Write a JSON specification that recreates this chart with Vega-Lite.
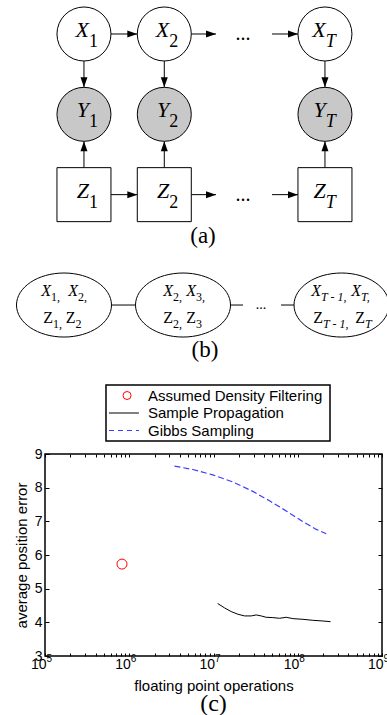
{
  "$schema": "https://vega.github.io/schema/vega-lite/v6.json",
  "background": "white",
  "padding": {"left": 13, "top": 0, "right": 0, "bottom": 0},
  "spacing": 4,
  "config": {"view": {"stroke": null}, "axis": {"grid": false}},
  "datasets": {
    "nodes": [
      {"id": "X1", "kind": "hidden", "x": 1, "y": 1},
      {"id": "X2", "kind": "hidden", "x": 2, "y": 1},
      {"id": "XT", "kind": "hidden", "x": 4, "y": 1},
      {"id": "Y1", "kind": "observed", "x": 1, "y": 2},
      {"id": "Y2", "kind": "observed", "x": 2, "y": 2},
      {"id": "YT", "kind": "observed", "x": 4, "y": 2},
      {"id": "Z1", "kind": "switch", "x": 1, "y": 3},
      {"id": "Z2", "kind": "switch", "x": 2, "y": 3},
      {"id": "ZT", "kind": "switch", "x": 4, "y": 3}
    ],
    "arrows": [
      {"x": 1.336, "y": 1, "tx": 1.664, "ty": 1, "dir": "right"},
      {"x": 2.336, "y": 1, "tx": 2.644, "ty": 1, "dir": "right"},
      {"x": 3.341, "y": 1, "tx": 3.664, "ty": 1, "dir": "right"},
      {"x": 1.336, "y": 3, "tx": 1.664, "ty": 3, "dir": "right"},
      {"x": 2.336, "y": 3, "tx": 2.644, "ty": 3, "dir": "right"},
      {"x": 3.341, "y": 3, "tx": 3.664, "ty": 3, "dir": "right"},
      {"x": 1, "y": 1.336, "tx": 1, "ty": 1.664, "dir": "down"},
      {"x": 2, "y": 1.336, "tx": 2, "ty": 1.664, "dir": "down"},
      {"x": 4, "y": 1.336, "tx": 4, "ty": 1.664, "dir": "down"},
      {"x": 1, "y": 2.664, "tx": 1, "ty": 2.336, "dir": "up"},
      {"x": 2, "y": 2.664, "tx": 2, "ty": 2.336, "dir": "up"},
      {"x": 4, "y": 2.664, "tx": 4, "ty": 2.336, "dir": "up"}
    ],
    "cliques": [
      {"x": 0.7515, "y": 4.374},
      {"x": 2.233, "y": 4.374},
      {"x": 4.206, "y": 4.374}
    ],
    "links": [
      {"x": 1.343, "y": 4.374, "tx": 1.642, "ty": 4.374},
      {"x": 2.824, "y": 4.374, "tx": 2.98, "ty": 4.374},
      {"x": 3.453, "y": 4.374, "tx": 3.615, "ty": 4.374}
    ],
    "labels": [
      {"panel": "a", "letter": "X", "sub": "1", "x": 1.062, "y": 1.037},
      {"panel": "a", "letter": "X", "sub": "2", "x": 2.062, "y": 1.037},
      {"panel": "a", "letter": "X", "sub": "T", "x": 4.01, "y": 1.037},
      {"panel": "a", "letter": "Y", "sub": "1", "x": 1.062, "y": 2.037},
      {"panel": "a", "letter": "Y", "sub": "2", "x": 2.062, "y": 2.037},
      {"panel": "a", "letter": "Y", "sub": "T", "x": 4.01, "y": 2.037},
      {"panel": "a", "letter": "Z", "sub": "1", "x": 1.062, "y": 3.037},
      {"panel": "a", "letter": "Z", "sub": "2", "x": 2.062, "y": 3.037},
      {"panel": "a", "letter": "Z", "sub": "T", "x": 4.01, "y": 3.037},
      {"panel": "b", "letter": "X", "sub": "1,", "x": 0.59, "y": 4.262},
      {"panel": "b", "letter": "X", "sub": "2,", "x": 0.926, "y": 4.262},
      {"panel": "b", "letter": "Z", "sub": "1,", "x": 0.615, "y": 4.598},
      {"panel": "b", "letter": "Z", "sub": "2", "x": 0.895, "y": 4.598},
      {"panel": "b", "letter": "X", "sub": "2,", "x": 2.108, "y": 4.262},
      {"panel": "b", "letter": "X", "sub": "3,", "x": 2.395, "y": 4.262},
      {"panel": "b", "letter": "Z", "sub": "2,", "x": 2.108, "y": 4.598},
      {"panel": "b", "letter": "Z", "sub": "3", "x": 2.395, "y": 4.598},
      {"panel": "b", "letter": "X", "sub": "T - 1,", "x": 3.951, "y": 4.262},
      {"panel": "b", "letter": "X", "sub": "T,", "x": 4.449, "y": 4.262},
      {"panel": "b", "letter": "Z", "sub": "T - 1,", "x": 3.976, "y": 4.598},
      {"panel": "b", "letter": "Z", "sub": "T", "x": 4.499, "y": 4.598}
    ],
    "dots": [
      {"panel": "a", "x": 2.98, "y": 1},
      {"panel": "a", "x": 2.98, "y": 3},
      {"panel": "b", "x": 3.204, "y": 4.374}
    ],
    "captions": [
      {"text": "(a)", "x": 2.482, "y": 3.52},
      {"text": "(b)", "x": 2.507, "y": 4.94}
    ],
    "legend": [
      {"series": "Assumed Density Filtering"},
      {"series": "Sample Propagation"},
      {"series": "Gibbs Sampling"}
    ],
    "adf": [{"flops": 820000, "err": 5.73}],
    "sp": [
      {"flops": 11200000, "err": 4.56},
      {"flops": 13500000, "err": 4.43},
      {"flops": 16200000, "err": 4.32},
      {"flops": 19500000, "err": 4.24},
      {"flops": 23400000, "err": 4.19},
      {"flops": 28000000, "err": 4.19},
      {"flops": 32100000, "err": 4.22},
      {"flops": 36800000, "err": 4.19},
      {"flops": 42200000, "err": 4.15},
      {"flops": 50700000, "err": 4.14},
      {"flops": 60800000, "err": 4.12},
      {"flops": 73000000, "err": 4.15},
      {"flops": 87600000, "err": 4.11},
      {"flops": 115000000, "err": 4.09},
      {"flops": 151000000, "err": 4.06},
      {"flops": 199000000, "err": 4.04},
      {"flops": 245000000, "err": 4.02}
    ],
    "gibbs": [
      {"flops": 3440000, "err": 8.64},
      {"flops": 5680000, "err": 8.54},
      {"flops": 9800000, "err": 8.38},
      {"flops": 17000000, "err": 8.17},
      {"flops": 29300000, "err": 7.89},
      {"flops": 46200000, "err": 7.61},
      {"flops": 73000000, "err": 7.31},
      {"flops": 115000000, "err": 6.99},
      {"flops": 166000000, "err": 6.76},
      {"flops": 218000000, "err": 6.63}
    ]
  },
  "vconcat": [
    {
      "width": 337,
      "height": 380,
      "encoding": {
        "x": {"field": "x", "type": "quantitative", "scale": {"domain": [0.515, 4.71], "nice": false, "zero": false}, "axis": null},
        "y": {"field": "y", "type": "quantitative", "scale": {"domain": [0.5768, 5.3073], "reverse": true, "nice": false, "zero": false}, "axis": null}
      },
      "layer": [
        {"data": {"name": "arrows"}, "mark": {"type": "rule", "color": "black", "strokeWidth": 1}, "encoding": {"x2": {"field": "tx"}, "y2": {"field": "ty"}}},
        {"data": {"name": "arrows"}, "transform": [{"filter": "datum.dir === 'right'"}],
         "mark": {"type": "point", "shape": "M0,0L-1,-0.35L-1,0.35Z", "size": 400, "filled": true, "color": "black", "opacity": 1, "strokeWidth": 0},
         "encoding": {"x": {"field": "tx", "type": "quantitative", "scale": {"domain": [0.515, 4.71], "nice": false, "zero": false}, "axis": null}, "y": {"field": "ty", "type": "quantitative", "scale": {"domain": [0.5768, 5.3073], "reverse": true, "nice": false, "zero": false}, "axis": null}}},
        {"data": {"name": "arrows"}, "transform": [{"filter": "datum.dir === 'down'"}],
         "mark": {"type": "point", "shape": "M0,0L-0.35,-1L0.35,-1Z", "size": 400, "filled": true, "color": "black", "opacity": 1, "strokeWidth": 0},
         "encoding": {"x": {"field": "tx", "type": "quantitative", "scale": {"domain": [0.515, 4.71], "nice": false, "zero": false}, "axis": null}, "y": {"field": "ty", "type": "quantitative", "scale": {"domain": [0.5768, 5.3073], "reverse": true, "nice": false, "zero": false}, "axis": null}}},
        {"data": {"name": "arrows"}, "transform": [{"filter": "datum.dir === 'up'"}],
         "mark": {"type": "point", "shape": "M0,0L-0.35,1L0.35,1Z", "size": 400, "filled": true, "color": "black", "opacity": 1, "strokeWidth": 0},
         "encoding": {"x": {"field": "tx", "type": "quantitative", "scale": {"domain": [0.515, 4.71], "nice": false, "zero": false}, "axis": null}, "y": {"field": "ty", "type": "quantitative", "scale": {"domain": [0.5768, 5.3073], "reverse": true, "nice": false, "zero": false}, "axis": null}}},
        {"data": {"name": "nodes"}, "transform": [{"filter": "datum.kind === 'hidden'"}],
         "mark": {"type": "point", "shape": "circle", "size": 2916, "filled": true, "fill": "white", "stroke": "black", "strokeWidth": 1, "opacity": 1}},
        {"data": {"name": "nodes"}, "transform": [{"filter": "datum.kind === 'observed'"}],
         "mark": {"type": "point", "shape": "circle", "size": 2916, "filled": true, "fill": "#c8c8c8", "stroke": "black", "strokeWidth": 1, "opacity": 1}},
        {"data": {"name": "nodes"}, "transform": [{"filter": "datum.kind === 'switch'"}],
         "mark": {"type": "point", "shape": "square", "size": 2916, "filled": true, "fill": "white", "stroke": "black", "strokeWidth": 1, "opacity": 1}},
        {"data": {"name": "links"}, "mark": {"type": "rule", "color": "black", "strokeWidth": 1}, "encoding": {"x2": {"field": "tx"}, "y2": {"field": "ty"}}},
        {"data": {"name": "cliques"},
         "mark": {"type": "point", "shape": "M-1,0C-1,-0.372,-0.552,-0.674,0,-0.674C0.552,-0.674,1,-0.372,1,0C1,0.372,0.552,0.674,0,0.674C-0.552,0.674,-1,0.372,-1,0Z", "size": 9025, "filled": true, "fill": "white", "stroke": "black", "strokeWidth": 1, "opacity": 1}},
        {"data": {"name": "labels"}, "transform": [{"filter": "datum.panel === 'a'"}],
         "mark": {"type": "text", "font": "Liberation Serif", "fontStyle": "italic", "fontSize": 22, "align": "right", "baseline": "alphabetic", "color": "black"},
         "encoding": {"text": {"field": "letter"}}},
        {"data": {"name": "labels"}, "transform": [{"filter": "datum.panel === 'a' && datum.sub !== 'T'"}],
         "mark": {"type": "text", "font": "Liberation Serif", "fontSize": 18, "align": "left", "baseline": "alphabetic", "dy": 10, "color": "black"},
         "encoding": {"text": {"field": "sub"}}},
        {"data": {"name": "labels"}, "transform": [{"filter": "datum.panel === 'a' && datum.sub === 'T'"}],
         "mark": {"type": "text", "font": "Liberation Serif", "fontStyle": "italic", "fontSize": 18, "align": "left", "baseline": "alphabetic", "dy": 10, "color": "black"},
         "encoding": {"text": {"field": "sub"}}},
        {"data": {"name": "labels"}, "transform": [{"filter": "datum.panel === 'b' && datum.letter === 'X'"}],
         "mark": {"type": "text", "font": "Liberation Serif", "fontStyle": "italic", "fontSize": 16, "align": "right", "baseline": "alphabetic", "color": "black"},
         "encoding": {"text": {"field": "letter"}}},
        {"data": {"name": "labels"}, "transform": [{"filter": "datum.panel === 'b' && datum.letter === 'Z'"}],
         "mark": {"type": "text", "font": "Liberation Serif", "fontSize": 16, "align": "right", "baseline": "alphabetic", "color": "black"},
         "encoding": {"text": {"field": "letter"}}},
        {"data": {"name": "labels"}, "transform": [{"filter": "datum.panel === 'b' && indexof(datum.sub, 'T') < 0"}],
         "mark": {"type": "text", "font": "Liberation Serif", "fontSize": 12, "align": "left", "baseline": "alphabetic", "dy": 5, "color": "black"},
         "encoding": {"text": {"field": "sub"}}},
        {"data": {"name": "labels"}, "transform": [{"filter": "datum.panel === 'b' && indexof(datum.sub, 'T') >= 0"}],
         "mark": {"type": "text", "font": "Liberation Serif", "fontStyle": "italic", "fontSize": 12, "align": "left", "baseline": "alphabetic", "dy": 5, "color": "black"},
         "encoding": {"text": {"field": "sub"}}},
        {"data": {"name": "dots"}, "transform": [{"filter": "datum.panel === 'a'"}],
         "mark": {"type": "text", "text": "...", "font": "Liberation Serif", "fontSize": 20, "align": "center", "baseline": "middle", "color": "black"}},
        {"data": {"name": "dots"}, "transform": [{"filter": "datum.panel === 'b'"}],
         "mark": {"type": "text", "text": "...", "font": "Liberation Serif", "fontSize": 14, "align": "center", "baseline": "middle", "color": "black"}},
        {"data": {"name": "captions"},
         "mark": {"type": "text", "font": "Liberation Serif", "fontSize": 23, "align": "center", "baseline": "middle", "color": "black"},
         "encoding": {"text": {"field": "text"}}}
      ]
    },
    {
      "width": 337,
      "height": 56,
      "layer": [
        {"data": {"values": [{"box": "legend"}]},
         "mark": {"type": "rect", "fill": "white", "stroke": "black", "strokeWidth": 1.5},
         "encoding": {"x": {"datum": 0, "type": "quantitative", "scale": {"domain": [-0.2723, 1.2321], "nice": false, "zero": false}, "axis": null}, "x2": {"datum": 1}}},
        {"data": {"name": "legend"}, "transform": [{"filter": "datum.series === 'Assumed Density Filtering'"}],
         "mark": {"type": "point", "shape": "circle", "filled": false, "color": "#ff0000", "size": 64, "strokeWidth": 1, "opacity": 1},
         "encoding": {
           "x": {"datum": 0.094, "type": "quantitative", "scale": {"domain": [-0.2723, 1.2321], "nice": false, "zero": false}, "axis": null},
           "y": {"field": "series", "type": "nominal", "scale": {"type": "point", "domain": ["Assumed Density Filtering", "Sample Propagation", "Gibbs Sampling"], "padding": 0.6}, "axis": null}}},
        {"data": {"name": "legend"}, "transform": [{"filter": "datum.series === 'Sample Propagation'"}],
         "mark": {"type": "rule", "color": "black", "strokeWidth": 1},
         "encoding": {
           "x": {"datum": 0.0134, "type": "quantitative", "scale": {"domain": [-0.2723, 1.2321], "nice": false, "zero": false}, "axis": null},
           "x2": {"datum": 0.147},
           "y": {"field": "series", "type": "nominal", "scale": {"type": "point", "domain": ["Assumed Density Filtering", "Sample Propagation", "Gibbs Sampling"], "padding": 0.6}, "axis": null}}},
        {"data": {"name": "legend"}, "transform": [{"filter": "datum.series === 'Gibbs Sampling'"}],
         "mark": {"type": "rule", "color": "#3c3cff", "strokeWidth": 1.2, "strokeDash": [5, 4]},
         "encoding": {
           "x": {"datum": 0.0134, "type": "quantitative", "scale": {"domain": [-0.2723, 1.2321], "nice": false, "zero": false}, "axis": null},
           "x2": {"datum": 0.147},
           "y": {"field": "series", "type": "nominal", "scale": {"type": "point", "domain": ["Assumed Density Filtering", "Sample Propagation", "Gibbs Sampling"], "padding": 0.6}, "axis": null}}},
        {"data": {"name": "legend"},
         "mark": {"type": "text", "align": "left", "baseline": "middle", "font": "Liberation Sans", "fontSize": 15, "color": "black"},
         "encoding": {
           "x": {"datum": 0.1875, "type": "quantitative", "scale": {"domain": [-0.2723, 1.2321], "nice": false, "zero": false}, "axis": null},
           "y": {"field": "series", "type": "nominal", "scale": {"type": "point", "domain": ["Assumed Density Filtering", "Sample Propagation", "Gibbs Sampling"], "padding": 0.6}, "axis": null},
           "text": {"field": "series"}}}
      ]
    },
    {
      "width": 337,
      "height": 202,
      "view": {"stroke": "black", "strokeWidth": 1.5},
      "title": {"text": "(c)", "orient": "bottom", "font": "Liberation Serif", "fontSize": 24, "fontWeight": "normal", "color": "black", "anchor": "middle", "offset": -1},
      "resolve": {"axis": {"x": "independent", "y": "independent"}},
      "layer": [
        {"data": {"name": "gibbs"},
         "mark": {"type": "line", "color": "#3c3cff", "strokeWidth": 1.2, "strokeDash": [6, 3]},
         "encoding": {
           "x": {"field": "flops", "type": "quantitative", "scale": {"type": "log", "domain": [100000, 1000000000], "nice": false},
                 "axis": {"orient": "bottom", "values": [100000, 1000000, 10000000, 100000000, 1000000000], "labelExpr": "'' + round(log(datum.value) / LN10)", "ticks": false, "domain": false, "grid": false, "labelAlign": "left", "labelOffset": 1, "labelFontSize": 10, "labelFont": "Liberation Sans", "labelColor": "black", "labelPadding": -3, "labelFlush": false, "labelOverlap": false, "labelBound": false, "title": null}},
           "y": {"field": "err", "type": "quantitative", "scale": {"domain": [3, 9], "nice": false, "zero": false}, "axis": null}}},
        {"data": {"name": "sp"},
         "mark": {"type": "line", "color": "black", "strokeWidth": 1},
         "encoding": {
           "x": {"field": "flops", "type": "quantitative", "scale": {"type": "log", "domain": [100000, 1000000000], "nice": false},
                 "axis": {"orient": "top", "values": [100000, 200000, 300000, 400000, 500000, 600000, 700000, 800000, 900000, 1000000, 2000000, 3000000, 4000000, 5000000, 6000000, 7000000, 8000000, 9000000, 10000000, 20000000, 30000000, 40000000, 50000000, 60000000, 70000000, 80000000, 90000000, 100000000, 200000000, 300000000, 400000000, 500000000, 600000000, 700000000, 800000000, 900000000, 1000000000], "labels": false, "tickSize": -3, "tickColor": "black", "tickWidth": 1, "domain": false, "grid": false, "title": null}},
           "y": {"field": "err", "type": "quantitative", "scale": {"domain": [3, 9], "nice": false, "zero": false},
                 "axis": {"orient": "right", "values": [3, 4, 5, 6, 7, 8, 9], "labels": false, "tickSize": -4, "tickColor": "black", "tickWidth": 1, "domain": false, "grid": false, "title": null}}}},
        {"data": {"name": "adf"},
         "mark": {"type": "point", "shape": "circle", "filled": false, "color": "#ff0000", "size": 100, "strokeWidth": 1, "opacity": 1},
         "encoding": {
           "x": {"field": "flops", "type": "quantitative", "scale": {"type": "log", "domain": [100000, 1000000000], "nice": false},
                 "axis": {"orient": "bottom", "values": [100000, 200000, 300000, 400000, 500000, 600000, 700000, 800000, 900000, 1000000, 2000000, 3000000, 4000000, 5000000, 6000000, 7000000, 8000000, 9000000, 10000000, 20000000, 30000000, 40000000, 50000000, 60000000, 70000000, 80000000, 90000000, 100000000, 200000000, 300000000, 400000000, 500000000, 600000000, 700000000, 800000000, 900000000, 1000000000],
                          "labelExpr": "indexof([100000, 1000000, 10000000, 100000000, 1000000000], datum.value) >= 0 ? '10' : ''",
                          "labelAlign": "right", "labelOffset": 1, "labelFontSize": 14, "labelFont": "Liberation Sans", "labelColor": "black", "labelPadding": 4, "labelFlush": false, "labelOverlap": false, "labelBound": false,
                          "tickSize": -3, "tickColor": "black", "tickWidth": 1, "domain": false, "grid": false,
                          "title": "floating point operations", "titleFont": "Liberation Sans", "titleFontSize": 15, "titleFontWeight": "normal", "titleColor": "black", "titlePadding": 7}},
           "y": {"field": "err", "type": "quantitative", "scale": {"domain": [3, 9], "nice": false, "zero": false},
                 "axis": {"orient": "left", "values": [3, 4, 5, 6, 7, 8, 9], "format": "d", "labelFontSize": 14, "labelFont": "Liberation Sans", "labelColor": "black", "labelPadding": 7, "labelFlush": false, "labelOverlap": false,
                          "tickSize": -4, "tickColor": "black", "tickWidth": 1, "domain": false, "grid": false,
                          "title": "average position error", "titleFont": "Liberation Sans", "titleFontSize": 15, "titleFontWeight": "normal", "titleColor": "black", "titlePadding": 5}}}}
      ]
    }
  ]
}
